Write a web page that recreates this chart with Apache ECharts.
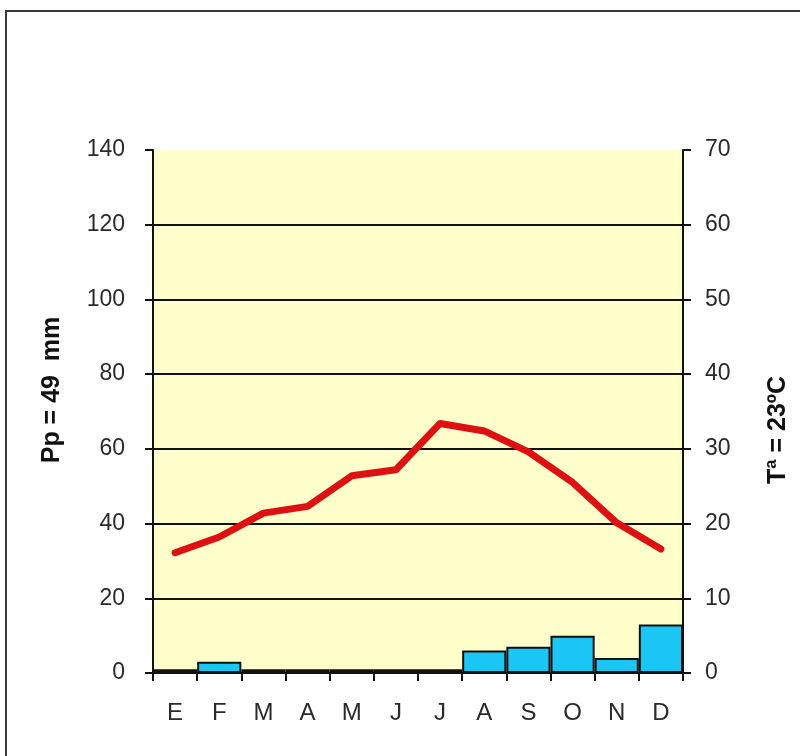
<!DOCTYPE html>
<html>
<head>
<meta charset="utf-8">
<script src="https://cdn.jsdelivr.net/npm/echarts@6/dist/echarts.min.js"></script>
<style>
  html, body { margin: 0; padding: 0; background: #fff; }
  #chart { width: 800px; height: 756px; }
</style>
</head>
<body>
<div id="chart"></div>
<script>
// meses
var months = ['E', 'F', 'M', 'A', 'M', 'J', 'J', 'A', 'S', 'O', 'N', 'D']
// precipitación (mm)
var rain = [1, 3, 1, 1, 1, 1, 1, 6, 7, 10, 4, 13]
// temperatura (ºC)
var temp = [16.1, 18.2, 21.4, 22.3, 26.4, 27.2, 33.4, 32.4, 29.6, 25.5, 20.1, 16.6]

var chart = echarts.init(document.getElementById('chart'))

var font = 'Liberation Sans, Arial, sans-serif'

chart.setOption({
  backgroundColor: '#fff',
  animation: false,
  grid: {
    left: 153, right: 117, top: 150, bottom: 83,
    show: true, backgroundColor: '#ffffcc', borderWidth: 0
  },
  graphic: [
    {
      type: 'rect', silent: true,
      shape: { x: 6, y: 11, width: 820, height: 800 },
      style: { fill: 'none', stroke: '#3a3a3a', lineWidth: 2 }
    },
    {
      type: 'text', x: 52, y: 390, rotation: Math.PI / 2,
      style: {
        text: 'Pp = 49  mm', fontFamily: font,
        fontSize: 25, fontWeight: 'bold', fill: '#111',
        align: 'center', verticalAlign: 'middle'
      }
    },
    {
      type: 'text', x: 778, y: 430, rotation: Math.PI / 2,
      style: {
        text: 'Tª = 23ºC', fontFamily: font,
        fontSize: 25, fontWeight: 'bold', fill: '#111',
        align: 'center', verticalAlign: 'middle'
      }
    }
  ],
  xAxis: {
    type: 'category',
    data: months,
    axisLine: { lineStyle: { color: '#111', width: 2 } },
    axisTick: { show: true, length: 8, lineStyle: { color: '#111', width: 2 } },
    axisLabel: { margin: 28, fontFamily: font, fontSize: 24, color: '#2a2a2a' }
  },
  yAxis: [
    {
      type: 'value', min: 0, max: 140, interval: 20,
      axisLine: { show: true, lineStyle: { color: '#111', width: 2 } },
      axisTick: { show: true, length: 8, lineStyle: { color: '#111', width: 2 } },
      axisLabel: { margin: 28, fontFamily: font, fontSize: 23, color: '#2a2a2a' },
      splitLine: { show: true, showMaxLine: false, lineStyle: { color: '#111', width: 2 } }
    },
    {
      type: 'value', min: 0, max: 70, interval: 10,
      axisLine: { show: true, lineStyle: { color: '#111', width: 2 } },
      axisTick: { show: true, length: 8, lineStyle: { color: '#111', width: 2 } },
      axisLabel: { margin: 22, fontFamily: font, fontSize: 23, color: '#2a2a2a' },
      splitLine: { show: false }
    }
  ],
  series: [
    {
      name: 'Pp',
      type: 'bar',
      yAxisIndex: 0,
      barCategoryGap: '0%',
      itemStyle: { color: '#1cc6f4', borderColor: '#111', borderWidth: 2 },
      data: rain
    },
    {
      name: 'Tª',
      type: 'line',
      yAxisIndex: 1,
      symbol: 'none',
      lineStyle: { color: '#dd1111', width: 7, cap: 'round', join: 'round' },
      data: temp,
      z: 5
    }
  ]
})
</script>
</body>
</html>
